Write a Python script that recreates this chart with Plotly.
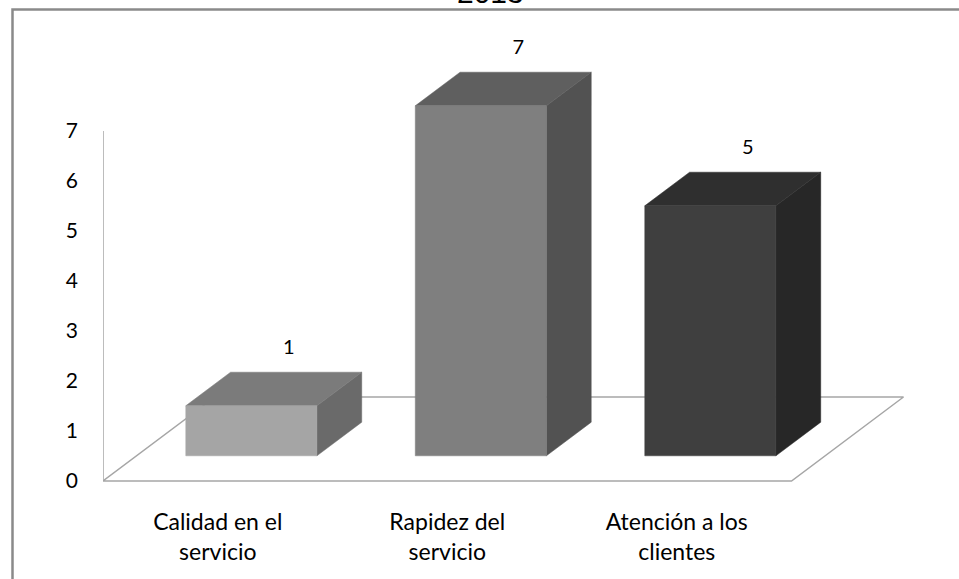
import plotly.graph_objects as go

# Chart data
categories = ["Calidad en el<br>servicio", "Rapidez del<br>servicio", "Atención a los<br>clientes"]
values = [1, 7, 5]
y_ticks = [0, 1, 2, 3, 4, 5, 6, 7]
title_text = "2013"

# Face colours per bar: front, top, side
front_colors = ["#a5a5a5", "#7f7f7f", "#3f3f3f"]
top_colors = ["#7b7b7b", "#5f5f5f", "#2f2f2f"]
side_colors = ["#6a6a6a", "#525252", "#272727"]

# Figure geometry (pixels)
W, H = 959, 579
LEFT = 103          # front-left corner of the floor
FLOOR_Y = 481       # pixel row of value 0 on the front plane
PX_PER_SLOT = 229.5
PX_PER_UNIT = 50.0
PLOT_BOTTOM = 495

# Oblique depth offset for the full floor depth, in axis units
DX = 112 / PX_PER_SLOT
DY = 84 / PX_PER_UNIT
GAP = 0.75
HALF_W = 0.5 / (1 + GAP)
D_FRONT, D_BACK = 0.3, 0.7
AXIS_MAX = 7
N = len(values)

fig = go.Figure()

floor_color = "#a6a6a6"

# floor outline
fig.add_trace(go.Scatter(
    x=[0, N, N + DX, DX, 0],
    y=[0, 0, DY, DY, 0],
    mode="lines", line=dict(color=floor_color, width=1.5),
    hoverinfo="skip", showlegend=False))
# vertical value axis
fig.add_trace(go.Scatter(
    x=[0, 0], y=[0, AXIS_MAX],
    mode="lines", line=dict(color=floor_color, width=1.5),
    hoverinfo="skip", showlegend=False))


def face(xs, ys, color):
    fig.add_trace(go.Scatter(
        x=xs + [xs[0]], y=ys + [ys[0]], mode="lines", fill="toself",
        fillcolor=color, line=dict(color=color, width=0.5),
        hoverinfo="skip", showlegend=False))


for i, v in enumerate(values):
    c = i + 0.5
    xl_f = c - HALF_W + D_FRONT * DX
    xr_f = c + HALF_W + D_FRONT * DX
    xl_b = c - HALF_W + D_BACK * DX
    xr_b = c + HALF_W + D_BACK * DX
    yb_f = D_FRONT * DY
    yb_b = D_BACK * DY
    # side face
    face([xr_f, xr_b, xr_b, xr_f], [yb_f, yb_b, v + yb_b, v + yb_f], side_colors[i])
    # top face
    face([xl_f, xr_f, xr_b, xl_b], [v + yb_f, v + yb_f, v + yb_b, v + yb_b], top_colors[i])
    # front face
    face([xl_f, xr_f, xr_f, xl_f], [yb_f, yb_f, v + yb_f, v + yb_f], front_colors[i])

# value labels above each bar
LABEL_DX = 71 / PX_PER_SLOT
LABEL_DY = 1.65
fig.add_trace(go.Scatter(
    x=[i + 0.5 + LABEL_DX for i in range(N)],
    y=[v + LABEL_DY for v in values],
    mode="text", text=[str(v) for v in values],
    textfont=dict(family="Lato", size=20, color="#000000"),
    hoverinfo="skip", showlegend=False))

plot_h = PLOT_BOTTOM
y_top = FLOOR_Y / PX_PER_UNIT
y_bottom = (FLOOR_Y - PLOT_BOTTOM) / PX_PER_UNIT
x_right = (W - LEFT) / PX_PER_SLOT

fig.update_layout(
    width=W, height=H,
    margin=dict(l=LEFT, r=0, t=0, b=H - PLOT_BOTTOM, pad=0),
    paper_bgcolor="white", plot_bgcolor="white",
    showlegend=False,
    xaxis=dict(range=[0, x_right], showgrid=False, zeroline=False, showline=False,
               tickmode="array", tickvals=[i + 0.5 for i in range(N)], ticktext=categories,
               ticks="", ticklabelstandoff=11,
               tickfont=dict(family="Lato", size=23, color="#000000"), fixedrange=True),
    yaxis=dict(range=[y_bottom, y_top], showgrid=False, zeroline=False, showline=False,
               tickmode="array", tickvals=y_ticks, ticktext=[str(t) for t in y_ticks],
               ticks="", ticklabelstandoff=24,
               tickfont=dict(family="Lato", size=21, color="#000000"), fixedrange=True),
)

# outer chart frame (extends past the right and bottom edges)
fx0 = (12.5 - LEFT) / (W - LEFT)
fy0 = 1 - 9.5 / plot_h
fig.add_shape(type="rect", xref="paper", yref="paper",
              x0=fx0, x1=1.05, y0=-0.3, y1=fy0,
              line=dict(color="#8a8a8a", width=2.5), fillcolor="rgba(0,0,0,0)", layer="above")

# title, mostly cut off by the top edge
fig.add_annotation(text=title_text, xref="paper", yref="paper",
                   x=(490 - LEFT) / (W - LEFT), y=1 - 11 / plot_h,
                   xanchor="center", yanchor="bottom", showarrow=False,
                   font=dict(family="Liberation Sans", size=30, color="#000000"))

fig.write_html("out.html")
